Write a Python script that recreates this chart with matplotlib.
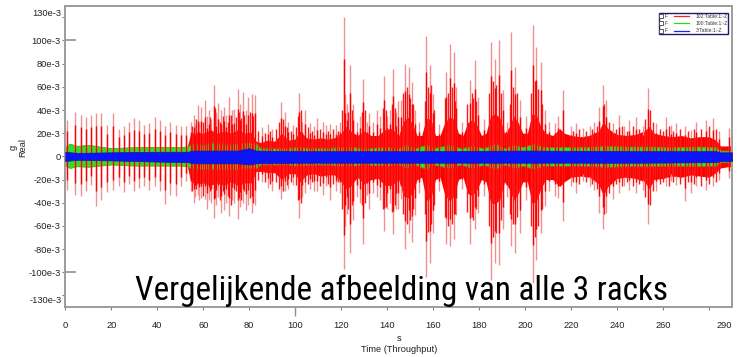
import os
import matplotlib
matplotlib.use("Agg")
import matplotlib.pyplot as plt
from matplotlib import font_manager as fm
from matplotlib.patches import Rectangle
from matplotlib.transforms import blended_transform_factory

# waarden in 1e-3 g, tijd in s
# grote pieken van 102:Table:1:-Z  (tijd, max, min)
spike_t = [0.7, 4.4, 6.8, 9.0, 11.2, 13.4, 15.7, 18.0, 20.6, 23.2, 25.5, 27.6, 29.9, 32.2,
           34.4, 36.6, 38.9, 41.2, 43.5, 45.7, 48.1, 50.3, 52.5,
           54.5, 55.8, 56.5, 57.6, 58.3, 59.2, 60.6, 61.5, 62.4, 63.5, 64.5, 65.5, 66.4, 67.9,
           69.0, 70.0, 71.1, 72.5, 73.5, 74.9, 76.0, 77.2, 78.4, 79.3, 81.0, 82.5,
           85.5, 88.0, 90.0, 93.7, 95.6, 97.0, 99.0, 101.8, 103.0, 104.3, 106.4, 108.0, 109.6,
           112.0, 113.5, 115.1, 117.7,
           119.3, 121.0, 121.7, 122.5, 123.8, 125.2, 127.0, 128.3, 129.6, 131.0, 132.2, 134.0,
           135.5, 137.0, 138.6, 140.0, 141.2, 142.7, 143.8, 144.9,
           146.2, 147.9, 149.3, 150.8, 152.0, 154.0, 157.0, 158.5, 159.9, 162.5, 165.7, 167.2,
           169.1, 170.1, 172.5, 175.9, 178.0, 179.5, 182.0, 185.0, 186.7, 188.5, 190.4, 192.0,
           194.0, 195.5, 197.6, 200.5, 203.4, 204.9, 206.8, 208.5, 210.5, 212.8, 214.5, 216.5,
           220.0, 222.1, 225.0, 228.0, 230.1, 232.3, 233.7, 235.2, 238.1, 241.0, 243.2, 245.3,
           248.2, 251.1, 253.5, 257.0, 261.3, 263.5, 265.6, 269.7, 272.2, 274.3, 278.7, 281.6,
           284.5, 288.8]
spike_hi = [31.5, 38.6, 35.8, 33.8, 35.8, 37.2, 37.8, 27, 37, 24, 26, 30, 33, 31.5,
            27, 28.6, 34, 31.5, 26, 30, 27, 26, 26,
            30, 36, 28, 44, 30, 43, 48.6, 35, 40, 32, 62, 38, 46, 40,
            43, 36, 51.5, 40, 41, 58, 45, 55.8, 40, 51.5, 54, 53,
            25, 28, 24, 47, 38, 30, 27, 55, 30, 40, 29, 26, 33,
            30, 27, 28, 27,
            30, 120, 54, 45, 78.7, 45, 30, 35, 67, 30, 37, 30,
            40, 35, 69, 35, 40, 75, 38, 48,
            48.6, 80, 77, 64, 40, 30, 103.6, 78.7, 54, 28, 73, 97,
            90, 60, 30, 66, 83, 51.5, 32, 98.7, 84, 100, 57, 30,
            107, 77, 48.6, 35, 113, 94, 81.5, 40, 30, 28.6, 35, 57,
            25.8, 28.6, 24.3, 25.8, 30, 43, 61.5, 48.6, 28.6, 35.8, 25.8, 31.5,
            34.3, 25.8, 58.7, 28.6, 34.3, 27.2, 28.6, 25.8, 22.9, 30, 31.5, 33,
            21.5, 24.3]
spike_lo = [-28.6, -33, -34, -30, -24.3, -43, -38, -31, -28.6, -26, -31, -24, -30, -27,
            -26, -28.6, -26, -30, -41, -33, -34, -26, -21,
            -30, -40, -35, -33, -38, -36, -37, -45, -38, -40, -53, -42, -35, -49,
            -46, -40, -51.5, -38, -40, -54, -44, -40, -46, -42, -48.6, -42,
            -22, -27, -30, -37, -30, -28, -25, -53, -35, -32, -28, -30, -30,
            -33, -26, -38, -30,
            -32, -97, -60, -50, -83, -55, -35, -40, -76, -33, -45, -32,
            -35, -38, -64, -45, -40, -67, -45, -45,
            -37, -80, -66, -74, -51, -32, -104, -91.6, -66, -30, -76, -77,
            -71.5, -51, -28, -76, -63, -49, -34, -107, -91.6, -94, -63, -35,
            -77, -83, -66, -38, -109, -89, -66, -43, -30, -34, -36, -56,
            -25.8, -31.5, -21.5, -25.8, -28.6, -48.6, -63, -48.6, -37, -31.5, -25.8, -28.6,
            -31.5, -28.6, -58.7, -30, -25.8, -21.5, -24.3, -38.6, -31.5, -25.8, -28.6, -25.8,
            -20, -18.6]

# kleinere pieken in de drukke stukken
minor_t = [55.2, 57.0, 60.0, 62.9, 65.0, 67.2, 68.5, 70.6, 72.0, 74.2, 75.5, 76.6, 77.8,
           80.2, 81.8,
           84.0, 86.7, 89.0, 91.5, 92.8, 94.6, 96.3, 98.0, 100.4, 101.0, 102.7, 105.4,
           107.2, 110.8, 114.3, 116.4, 118.5,
           120.3, 122.9, 124.5, 129.0, 130.2, 138.0, 139.3, 142.0, 143.3,
           146.8, 148.5, 150.0, 151.4, 156.3, 157.7, 159.2, 160.5, 165.0, 166.4, 168.2,
           169.6, 174.8, 176.7, 177.3, 178.8, 184.3, 185.8, 187.5, 189.3, 193.4, 194.8,
           196.4, 202.5, 204.2, 205.7, 207.5,
           221.0, 223.5, 226.5, 229.0, 231.2, 234.5, 236.5, 239.5, 242.0, 244.2, 246.8,
           249.7, 252.3, 254.5, 255.8, 258.7, 260.0, 262.5, 264.5, 267.5, 271.0, 273.3,
           276.5, 280.0, 282.8]
minor_hi = [26, 32, 30, 34, 42, 30, 35, 30, 36, 34, 38, 33, 36,
            38, 35,
            22, 20, 22, 24, 30, 32, 25, 22, 25, 35, 40, 25,
            22, 24, 22, 24, 22,
            40, 38, 40, 38, 40, 42, 40, 45, 42,
            55, 60, 50, 45, 48, 60, 62, 40, 50, 55, 60,
            48, 45, 55, 50, 48, 55, 65, 62, 55, 45, 60,
            55, 55, 65, 58, 45,
            22, 24, 22, 24, 26, 45, 30, 24, 26, 22, 26,
            24, 32, 40, 30, 24, 22, 26, 22, 24, 22, 24,
            24, 26, 24]
minor_lo = [-30, -28, -34, -30, -36, -38, -30, -34, -42, -30, -36, -38, -30,
            -36, -40,
            -20, -22, -24, -22, -28, -30, -25, -22, -25, -38, -40, -24,
            -22, -26, -24, -24, -22,
            -45, -45, -42, -42, -40, -45, -44, -48, -42,
            -50, -58, -55, -45, -50, -65, -58, -42, -52, -60, -58,
            -50, -48, -52, -55, -45, -60, -70, -66, -55, -50, -58,
            -52, -60, -70, -60, -45,
            -22, -24, -22, -24, -28, -50, -32, -24, -26, -22, -26,
            -24, -35, -42, -30, -24, -22, -26, -22, -24, -22, -24,
            -26, -24, -22]

# dichte kern van 102:Table:1:-Z
body_t = [0, 10, 20, 30, 40, 50, 53, 54.5, 57, 60, 63, 66, 69, 72,
          75, 78, 81, 83, 85, 88, 91, 94, 97, 100, 102, 105, 108, 111, 114, 117, 120, 122,
          124, 127, 130, 133, 136, 139, 142, 145, 147, 149, 151, 153, 155, 157, 159, 161,
          163, 165, 167, 169, 171, 173, 175, 177, 179, 181, 183, 185, 187, 189, 191, 193,
          195, 197, 199, 201, 203, 205, 207, 209, 212, 215, 217, 220, 224, 228, 232, 234,
          236, 240, 244, 248, 252, 254, 256, 260, 264, 268, 272, 276, 280, 283, 285, 288, 290]
body_hi = [6, 6, 6, 6, 6, 6, 8, 20, 21, 20, 23, 20, 22, 20,
           23, 20, 21, 13, 12, 14, 13, 20, 14, 15, 22, 16, 15, 16, 15, 16, 20, 26,
           22, 18, 22, 18, 18, 23, 24, 18, 30, 34, 28, 18, 18, 33, 32, 18,
           18, 29, 34, 32, 20, 18, 29, 32, 27, 18, 20, 35, 37, 33, 20, 25,
           35, 29, 20, 20, 37, 35, 25, 20, 18, 24, 20, 18, 17, 18, 22, 30,
           24, 19, 18, 19, 22, 26, 20, 18, 17, 18, 16, 17, 17, 14, 9, 9, 9]
body_lo = [-6, -6, -6, -6, -6, -6, -8, -22, -24, -23, -25, -23, -25, -22,
           -25, -23, -23, -13, -13, -14, -14, -20, -15, -15, -22, -16, -15, -17, -16, -16, -22, -28,
           -26, -18, -24, -20, -19, -25, -25, -20, -34, -36, -32, -20, -18, -38, -36, -20,
           -18, -33, -38, -35, -20, -18, -32, -34, -29, -20, -22, -40, -41, -37, -22, -28,
           -38, -32, -22, -22, -41, -38, -27, -20, -20, -26, -22, -18, -17, -18, -24, -34,
           -26, -19, -18, -19, -22, -28, -20, -19, -17, -18, -16, -17, -18, -14, -10, -9, -9]

# 100:Table:1:-Z
green_t = [0, 2, 5, 10, 15, 20, 30, 40, 50, 53, 55, 60, 65, 70, 75, 80, 83, 85, 95, 100,
           110, 120, 125, 130, 140, 145, 148, 152, 157, 160, 167, 172, 177, 182, 187, 191,
           195, 199, 204, 208, 215, 225, 235, 245, 255, 265, 275, 283, 285, 290]
green_hi = [8, 11, 9, 10, 8.5, 7, 8, 8, 8, 8.5, 11, 10, 12, 10, 11, 12, 11, 7, 7, 8,
            7, 8, 8, 7, 8, 7, 10, 7, 10, 7, 10, 7, 9, 7, 11, 7,
            10, 8, 11, 8, 8, 8, 9, 8.5, 8.5, 8, 8.5, 8, 5, 5]
green_lo = [-8, -10, -8.5, -9, -8, -7, -8, -8, -8, -8.5, -11, -11, -11, -11, -11, -10, -10, -7, -7, -8,
            -7, -8, -8, -7, -8, -7, -10, -7, -11, -7, -10, -7, -10, -7, -11, -7,
            -10, -8, -11, -8, -8, -8, -9, -8.5, -8.5, -8, -8.5, -8, -5, -5]

# 3:Table:1:-Z
blue_t = [0, 5, 20, 40, 53, 56, 75, 80, 83, 100, 150, 200, 250, 283, 285, 290]
blue_hi = [4, 3, 3.5, 4, 4, 5, 5, 7, 5, 4.5, 4.5, 5, 4.5, 4.5, 3.5, 3.5]
blue_lo = [-4, -3, -3.5, -4.5, -5, -6, -6, -7, -6, -5.5, -5.5, -5.5, -5.5, -5, -4, -4]

y_ticks = list(range(-120, 121, 20))
x_ticks = list(range(0, 281, 20))
legend_labels = ["102:Table:1:-Z", "100:Table:1:-Z", "3:Table:1:-Z"]
legend_colors = ["#ff2020", "#20e020", "#2020ff"]
title_text = "Vergelijkende afbeelding van alle 3 racks"


def smal_lettertype():
    # zoek een smalle (condensed) letter voor de titel
    wensen = ["RobotoCondensed-Regular", "Roboto-Condensed", "RobotoCondensed",
              "NotoSans-CondensedRegular", "NotoSans-Condensed.", "NotoSansCondensed-Regular",
              "LiberationSansNarrow-Regular", "OpenSans_Condensed-Regular",
              "OpenSansCondensed-Regular", "DejaVuSansCondensed."]
    namen = [f.fname for f in fm.fontManager.ttflist]
    for w in wensen:
        for n in namen:
            if w in os.path.basename(n):
                return fm.FontProperties(fname=n)
    return fm.FontProperties(family=["Roboto", "DejaVu Sans"])


plt.rcParams['font.family'] = ['Liberation Sans', 'DejaVu Sans']

fig = plt.figure(figsize=(7.5, 3.57), dpi=100)
ax = fig.add_axes([0.0871, 0.140, 0.889, 0.844])

# rood kern, groen, rode pieken, blauw
ax.fill_between(body_t, body_lo, body_hi, color="#ff0000", lw=0, zorder=1)
ax.fill_between(green_t, green_lo, green_hi, facecolor="#22e622", edgecolor="#6f8f10",
                lw=0.6, zorder=2)
ax.vlines(spike_t, spike_lo, spike_hi, colors="#f29090", lw=1.0, zorder=3)
ax.vlines(minor_t, minor_lo, minor_hi, colors="#ff1a1a", lw=1.0, zorder=3)
ax.vlines(spike_t, [v * 0.7 for v in spike_lo], [v * 0.7 for v in spike_hi],
          colors="#ff0000", lw=1.0, zorder=3)
ax.fill_between(blue_t, blue_lo, blue_hi, facecolor="#0a14f5", edgecolor="#1a1a90",
                lw=0.5, zorder=4)

ax.set_xlim(0, 290)
ax.set_ylim(-130, 130)

for s in ax.spines.values():
    s.set_color("#9c9c9c")
    s.set_linewidth(1.4)

ax.set_yticks(y_ticks)
ax.set_yticklabels(["" if abs(v) == 120 else ("0" if v == 0 else f"{v}e-3") for v in y_ticks])
ax.set_xticks(x_ticks)
ax.set_xticklabels(["" if v == 280 else str(v) for v in x_ticks])
ax.tick_params(axis="y", direction="out", length=2.5, width=0.8, color="#808080",
               pad=0.8, labelsize=6.7, labelcolor="#222222")
ax.tick_params(axis="x", direction="out", length=2.2, width=0.8, color="#808080",
               pad=7.8, labelsize=6.7, labelcolor="#222222")
# langere streepjes bij 100
ax.yaxis.remove_overlapping_locs = False
ax.xaxis.remove_overlapping_locs = False
ax.set_yticks([-100, 100], minor=True)
ax.set_xticks([100], minor=True)
ax.tick_params(axis="y", which="minor", direction="in", length=8, width=1.2, color="#909090")
ax.tick_params(axis="x", which="minor", direction="out", length=6.5, width=1.0, color="#909090")

trans_y = blended_transform_factory(ax.transAxes, ax.transData)
ax.text(-0.0055, 123.5, "130e-3", transform=trans_y, ha="right", va="center",
        fontsize=6.7, color="#222222")
ax.text(-0.0055, -124.5, "-130e-3", transform=trans_y, ha="right", va="center",
        fontsize=6.7, color="#222222")
trans_x = blended_transform_factory(ax.transData, ax.transAxes)
ax.text(286.5, -0.0597, "290", transform=trans_x, ha="center", va="center",
        fontsize=6.7, color="#222222")

ax.set_ylabel("g\nReal", fontsize=6.7, linespacing=1.0, ha="center", va="center",
              color="#222222")
ax.yaxis.set_label_coords(-0.0712, 0.531)
ax.set_xlabel("s\nTime (Throughput)", fontsize=6.7, linespacing=1.25, ha="center",
              va="center", color="#222222")
ax.xaxis.set_label_coords(0.5, -0.1228)

# legenda
ax.add_patch(Rectangle((0.8905, 0.906), 0.1035, 0.07, transform=ax.transAxes,
                       facecolor="white", edgecolor="#1c1c6c", lw=1.0, zorder=10))
for i, (lab, col) in enumerate(zip(legend_labels, legend_colors)):
    yy = 0.9645 - i * 0.0235
    ax.plot([0.8937], [yy], marker="s", ms=2.6, mfc="white", mec="#444444", mew=0.6,
            transform=ax.transAxes, zorder=11)
    ax.text(0.8985, yy, "F", transform=ax.transAxes, fontsize=3.6, va="center",
            ha="left", color="#333333", zorder=11)
    ax.plot([0.913, 0.9355], [yy, yy], color=col, lw=0.9, transform=ax.transAxes,
            zorder=11)
    ax.text(0.946, yy, lab, transform=ax.transAxes, fontsize=3.6, va="center",
            ha="left", color="#333333", zorder=11)

# grote titel over de grafiek, breedte passend gemaakt
title = fig.text(0.535, 0.1597, title_text, fontproperties=smal_lettertype(),
                 fontsize=24, ha="center", va="baseline", color="black", zorder=20)
fig.canvas.draw()
w = title.get_window_extent().width
title.set_fontsize(24 * 533.0 / w)

fig.savefig("out.png", dpi=100)
